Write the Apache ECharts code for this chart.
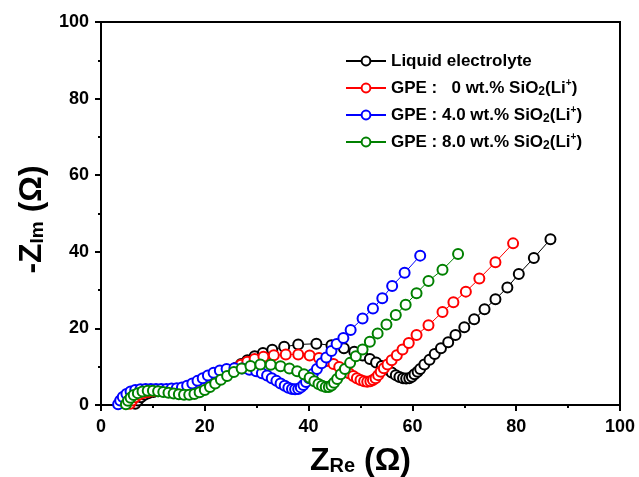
<!DOCTYPE html>
<html>
<head>
<meta charset="utf-8">
<script src="https://cdn.jsdelivr.net/npm/echarts@6/dist/echarts.min.js"></script>
<style>
html,body{margin:0;padding:0;background:#fff;}
#chart{width:639px;height:477px;}
</style>
</head>
<body>
<div id="chart"></div>
<script>
// ---- data (Z_Re, -Z_Im) in ohm ----
var seriesNames = ['liquid', 'gpe0', 'gpe4', 'gpe8'];
var legendLabels = [
  'Liquid electrolyte',
  'GPE :   0 wt.% SiO{sub|2}(Li{sup|+})',
  'GPE : 4.0 wt.% SiO{sub|2}(Li{sup|+})',
  'GPE : 8.0 wt.% SiO{sub|2}(Li{sup|+})'
];
var seriesColors = ['#000000', '#ff0000', '#0000ff', '#008000'];
var xTicks = [0, 20, 40, 60, 80, 100];
var yTicks = [0, 20, 40, 60, 80, 100];

var liquid = [[6.6,0.3],[7.1,1.2],[7.7,2.0],[8.4,2.7],[9.2,3.1],[10.1,3.4],[11.0,3.6],[12.0,3.7],[13.0,3.7],[14.0,3.7],[15.0,3.8],[16.0,3.9],[17.0,4.0],[18.0,4.2],[19.0,4.5],[20.0,4.9],[21.0,5.4],[22.0,6.0],[23.0,6.8],[24.0,7.7],[25.0,8.7],[26.0,9.7],[27.0,10.7],[28.2,11.7],[29.6,12.7],[31.2,13.6],[33.0,14.4],[35.3,15.2],[38.0,15.8],[41.5,16.0],[44.4,15.6],[46.8,14.8],[48.8,13.9],[50.4,12.9],[51.8,12.0],[53.0,11.1],[54.1,10.2],[55.1,9.3],[56.0,8.5],[56.8,7.8],[57.5,7.3],[58.2,7.0],[58.8,6.9],[59.4,7.0],[59.9,7.4],[60.4,8.0],[61.0,8.7],[61.5,9.4],[62.3,10.6],[63.3,11.8],[64.3,13.3],[65.5,14.8],[66.9,16.4],[68.3,18.3],[70.0,20.3],[71.9,22.4],[73.9,25.0],[76.0,27.6],[78.3,30.7],[80.5,34.2],[83.4,38.4],[86.6,43.3]];

var gpe0 = [[5.6,0.3],[6.0,1.2],[6.6,2.0],[7.3,2.7],[8.1,3.1],[9.0,3.4],[9.9,3.6],[10.9,3.7],[11.9,3.8],[12.9,3.8],[13.9,3.9],[14.9,4.0],[15.9,4.1],[16.9,4.3],[17.9,4.5],[18.9,4.8],[19.9,5.2],[20.9,5.7],[21.9,6.3],[22.9,7.0],[23.9,7.8],[24.9,8.7],[25.9,9.6],[27.0,10.5],[28.2,11.3],[29.6,12.0],[31.3,12.6],[33.3,13.0],[35.6,13.2],[38.0,13.2],[40.2,12.9],[42.0,12.3],[43.5,11.5],[44.8,10.7],[45.9,9.9],[46.9,9.1],[47.8,8.3],[48.6,7.6],[49.3,7.0],[50.0,6.5],[50.7,6.2],[51.3,6.1],[51.9,6.2],[52.4,6.5],[52.9,7.0],[53.4,7.8],[53.9,8.7],[54.5,9.6],[55.2,10.6],[56.0,11.7],[57.0,13.0],[58.1,14.5],[59.3,16.2],[60.8,18.3],[63.1,20.8],[65.8,24.3],[67.9,26.8],[70.3,29.6],[72.9,33.0],[76.0,37.3],[79.4,42.2]];

var gpe4 = [[3.3,0.2],[3.7,1.2],[4.2,2.1],[4.9,2.9],[5.7,3.5],[6.6,3.9],[7.6,4.1],[8.6,4.2],[9.6,4.2],[10.6,4.2],[11.6,4.2],[12.6,4.2],[13.6,4.3],[14.6,4.4],[15.6,4.6],[16.6,5.0],[17.6,5.6],[18.6,6.3],[19.6,7.0],[20.6,7.7],[21.7,8.4],[22.9,9.0],[24.2,9.4],[25.7,9.6],[27.2,9.5],[28.6,9.2],[29.9,8.8],[31.0,8.3],[32.0,7.7],[32.9,7.0],[33.8,6.3],[34.6,5.6],[35.4,5.0],[36.1,4.5],[36.8,4.2],[37.4,4.1],[38.0,4.2],[38.5,4.6],[39.0,5.2],[39.5,6.0],[40.1,7.0],[40.8,8.1],[41.6,9.4],[42.5,10.9],[43.4,12.4],[44.4,14.1],[45.4,15.9],[46.7,17.5],[48.1,19.6],[50.4,22.6],[52.4,25.2],[54.2,27.9],[56.1,31.1],[58.5,34.5],[61.5,39.0]];

var gpe8 = [[4.8,0.2],[5.2,1.1],[5.7,1.9],[6.3,2.6],[7.1,3.1],[8.0,3.5],[9.0,3.7],[10.0,3.7],[11.0,3.6],[12.0,3.4],[13.0,3.2],[14.0,3.0],[15.0,2.8],[16.0,2.7],[17.0,2.7],[18.0,2.9],[19.0,3.3],[20.0,3.9],[21.0,4.7],[22.0,5.6],[23.1,6.6],[24.3,7.6],[25.6,8.6],[27.1,9.5],[28.8,10.2],[30.7,10.6],[32.7,10.5],[34.6,10.1],[36.3,9.5],[37.8,8.8],[39.1,8.0],[40.2,7.1],[41.1,6.2],[41.9,5.5],[42.6,5.0],[43.3,4.7],[43.9,4.7],[44.4,5.1],[44.9,5.8],[45.5,6.8],[46.2,8.0],[47.0,9.4],[48.0,11.0],[49.1,12.7],[50.4,14.5],[51.8,16.5],[53.3,18.7],[55.0,21.0],[56.8,23.5],[58.7,26.2],[60.8,29.2],[63.1,32.4],[65.8,35.3],[68.8,39.4]];

var seriesData = [liquid, gpe0, gpe4, gpe8];

var FONT = '"Liberation Sans", Arial, sans-serif';
var chart = echarts.init(document.getElementById('chart'), null, {renderer: 'canvas'});

var series = seriesNames.map(function (n, i) {
  return {
    name: n,
    type: 'line',
    data: seriesData[i],
    symbol: 'emptyCircle',
    symbolSize: 10,
    showAllSymbol: true,
    lineStyle: {color: seriesColors[i], width: 1},
    itemStyle: {color: seriesColors[i], borderColor: seriesColors[i], borderWidth: 1},
    emphasis: {disabled: true},
    animation: false
  };
});

function axisCommon() {
  return {
    type: 'value',
    min: 0, max: 100, interval: 20,
    axisLine: {show: true, onZero: false, lineStyle: {color: '#000', width: 2}},
    axisTick: {show: true, inside: false, length: 6, lineStyle: {color: '#000', width: 2}},
    minorTick: {show: true, splitNumber: 2, length: 3, lineStyle: {color: '#000', width: 2}},
    splitLine: {show: false},
    axisLabel: {color: '#000', fontSize: 18, fontWeight: 'bold', fontFamily: FONT, margin: 13}
  };
}

var xAxis = axisCommon();
xAxis.name = '{a|Z}{b|Re}{a| (Ω)}';
xAxis.nameLocation = 'middle';
xAxis.nameGap = 40;
xAxis.nameTextStyle = {
  color: '#000', fontFamily: FONT, fontWeight: 'bold',
  rich: {
    a: {fontSize: 32, fontWeight: 'bold', fontFamily: FONT, color: '#000', verticalAlign: 'bottom'},
    b: {fontSize: 20, fontWeight: 'bold', fontFamily: FONT, color: '#000', verticalAlign: 'bottom', padding: [0, 0, 1, 0]}
  }
};
xAxis.axisLabel.formatter = function (v) { return xTicks.indexOf(v) >= 0 ? String(v) : ''; };

var yAxis = axisCommon();
yAxis.name = '{a|-Z}{b|Im}{a| (Ω)}';
yAxis.nameLocation = 'middle';
yAxis.nameRotate = 90;
yAxis.nameGap = 52;
yAxis.nameTextStyle = {
  color: '#000', fontFamily: FONT, fontWeight: 'bold',
  padding: [0, 12, 0, 0],
  rich: {
    a: {fontSize: 32, fontWeight: 'bold', fontFamily: FONT, color: '#000', verticalAlign: 'bottom'},
    b: {fontSize: 19, fontWeight: 'bold', fontFamily: FONT, color: '#000', verticalAlign: 'bottom', padding: [0, 0, 1, 0]}
  }
};
yAxis.axisLabel.formatter = function (v) { return yTicks.indexOf(v) >= 0 ? String(v) : ''; };
yAxis.axisLabel.margin = 12;

chart.setOption({
  animation: false,
  backgroundColor: '#fff',
  grid: {left: 101, right: 19, top: 22, bottom: 72, containLabel: false, outerBoundsMode: 'none',
         show: true, borderColor: '#000', borderWidth: 2, backgroundColor: 'transparent'},
  legend: {
    orient: 'vertical',
    left: 340,
    top: 46,
    itemWidth: 40,
    itemHeight: 11,
    itemGap: 7,
    selectedMode: false,
    data: seriesNames,
    formatter: function (name) { return legendLabels[seriesNames.indexOf(name)]; },
    textStyle: {
      color: '#000', fontSize: 17, fontWeight: 'bold', fontFamily: FONT, lineHeight: 20,
      rich: {
        sub: {fontSize: 12, fontWeight: 'bold', fontFamily: FONT, color: '#000', verticalAlign: 'bottom', lineHeight: 20},
        sup: {fontSize: 10, fontWeight: 'bold', fontFamily: FONT, color: '#000', verticalAlign: 'top', lineHeight: 20}
      }
    }
  },
  xAxis: xAxis,
  yAxis: yAxis,
  series: series
});
</script>
</body>
</html>
